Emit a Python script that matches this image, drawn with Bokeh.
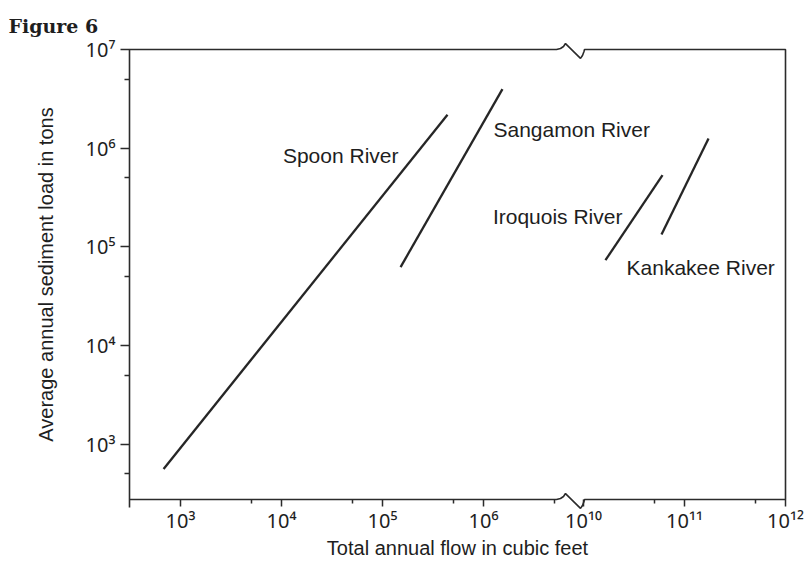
import math
from bokeh.plotting import figure
from bokeh.models import Range1d, LogScale, FixedTicker, CustomJSTickFormatter, ColumnDataSource, Label
from bokeh.embed import file_html
from bokeh.resources import INLINE

# ---------------- data ----------------
rivers = ["Spoon River", "Sangamon River", "Iroquois River", "Kankakee River"]
flow_segment = ["left", "left", "right", "right"]      # part of the broken flow axis
flow_start = [680, 1.51e5, 1.65e10, 5.92e10]           # total annual flow, cubic feet
flow_end = [4.4e5, 1.54e6, 6.06e10, 1.73e11]
load_start = [560, 6.23e4, 7.32e4, 1.33e5]             # average annual sediment load, tons
load_end = [2.18e6, 3.97e6, 5.33e5, 1.25e6]

label_flow = [1.44e5, 1.256e6, 2.43e10, 2.67e10]
label_load = [8.46e5, 1.54e6, 2.02e5, 6.23e4]
label_align = ["right", "left", "right", "left"]

x_ticks_left = [1e3, 1e4, 1e5, 1e6]
x_minor_left = [5e3, 5e4, 5e5, 5e6]
x_ticks_right = [1e10, 1e11, 1e12]
x_minor_right = [5e10, 5e11]
y_ticks = [1e3, 1e4, 1e5, 1e6, 1e7]
y_minor = [5e2, 5e3, 5e4, 5e5, 5e6]

# ---------------- geometry of the broken axis ----------------
W, H = 806, 561
B_LEFT, B_TOP, B_RIGHT, B_BOTTOM = 129, 48, 21, 58
FRAME_W, FRAME_H = W - B_LEFT - B_RIGHT, H - B_TOP - B_BOTTOM
DX = 101.0                      # px per decade on the flow axis (both parts)
X_LO = 2.495                    # log10 of left edge (left part)
X_HI = X_LO + FRAME_W / DX
SHIFT = 12.0 - X_HI             # right part: same scale shifted by SHIFT decades
Y_LO, Y_HI = 2.4386, 7.0
DY = FRAME_H / (Y_HI - Y_LO)
BREAK_PX = 441                  # break centre, px from frame left

INK = "#2b2b2b"
TXT = "#1e1e1e"
FONT = "Liberation Sans"
TICK_FONT = "Noto Sans"
FS = "21px"

p = figure(width=W, height=H, x_axis_type="log", y_axis_type="log",
           x_range=Range1d(10 ** X_LO, 10 ** X_HI),
           y_range=Range1d(10 ** Y_LO, 10 ** Y_HI),
           output_backend="svg", toolbar_location=None,
           min_border_left=B_LEFT, min_border_right=B_RIGHT,
           min_border_top=B_TOP, min_border_bottom=B_BOTTOM)
p.extra_x_ranges = {"right": Range1d(10 ** (X_LO + SHIFT), 10 ** (X_HI + SHIFT))}
p.extra_x_scales = {"right": LogScale()}

p.background_fill_color = "white"
p.border_fill_color = "white"
p.outline_line_color = None
p.xgrid.visible = False
p.ygrid.visible = False

p.title.text = "Figure 6"
p.title.text_font = "DejaVu Serif"
p.title.text_font_style = "bold"
p.title.text_font_size = "19px"
p.title.text_color = TXT
p.title.align = "left"
p.title.vertical_align = "bottom"
p.title.offset = -(B_LEFT - 8)
p.title.standoff = 25

sup_code = """
const sup = {"0":"\\u2070","1":"\\u00b9","2":"\\u00b2","3":"\\u00b3","4":"\\u2074",
             "5":"\\u2075","6":"\\u2076","7":"\\u2077","8":"\\u2078","9":"\\u2079","-":"\\u207b"};
let e = Math.log10(tick);
if (tick > split) { e = e + shift; }
e = Math.round(e);
return "10" + String(e).split("").map((c) => sup[c]).join("");
"""

split_val = 10 ** (X_LO + BREAK_PX / DX)
xaxis = p.xaxis[0]
xaxis.ticker = FixedTicker(ticks=x_ticks_left + [t / 10 ** SHIFT for t in x_ticks_right],
                           minor_ticks=x_minor_left + [t / 10 ** SHIFT for t in x_minor_right])
xaxis.formatter = CustomJSTickFormatter(args=dict(split=split_val, shift=SHIFT), code=sup_code)
yaxis = p.yaxis[0]
yaxis.ticker = FixedTicker(ticks=y_ticks, minor_ticks=y_minor)
yaxis.formatter = CustomJSTickFormatter(args=dict(split=1e30, shift=0.0), code=sup_code)

for ax, tout, mout in ((xaxis, 7, 4), (yaxis, 9, 5)):
    ax.axis_line_color = None
    ax.major_tick_in = 0
    ax.minor_tick_in = 0
    ax.major_tick_out = tout
    ax.minor_tick_out = mout
    ax.major_tick_line_color = INK
    ax.minor_tick_line_color = INK
    ax.major_tick_line_width = 1.5
    ax.minor_tick_line_width = 1.5
    ax.major_label_text_font = TICK_FONT
    ax.major_label_text_font_size = "20px"
    ax.major_label_text_color = TXT
    ax.axis_label_text_font = FONT
    ax.axis_label_text_font_size = "20px"
    ax.axis_label_text_font_style = "normal"
    ax.axis_label_text_color = TXT

xaxis.major_label_standoff = 0
xaxis.axis_label = "Total annual flow in cubic feet"
xaxis.axis_label_standoff = 0
yaxis.major_label_standoff = 5
yaxis.axis_label = "Average annual sediment load in tons"
yaxis.axis_label_standoff = 26

# ---------------- frame with the axis break ----------------
brk = [(-14, 0), (-10, -1), (-7, -3), (-5, -6), (10, 9), (12, 6), (13.5, 2), (14, 0)]
path = [(0, FRAME_H + 8), (0, 0)]
path += [(BREAK_PX + dx, dy) for dx, dy in brk]
path += [(FRAME_W, 0), (FRAME_W, FRAME_H)]
path += [(BREAK_PX + dx, FRAME_H + dy) for dx, dy in reversed(brk)]
path += [(0, FRAME_H)]
fx = [10 ** (X_LO + a / DX) for a, _ in path]
fy = [10 ** (Y_HI - b / DY) for _, b in path]
p.line(fx, fy, line_color=INK, line_width=1.6, level="overlay")

# ---------------- river lines ----------------
for seg in ("left", "right"):
    idx = [i for i, s in enumerate(flow_segment) if s == seg]
    src = ColumnDataSource(dict(x0=[flow_start[i] for i in idx], y0=[load_start[i] for i in idx],
                                x1=[flow_end[i] for i in idx], y1=[load_end[i] for i in idx]))
    kw = {"x_range_name": "right"} if seg == "right" else {}
    p.segment("x0", "y0", "x1", "y1", source=src, line_color="#262626", line_width=2.3, **kw)

for i, name in enumerate(rivers):
    p.add_layout(Label(x=label_flow[i], y=label_load[i], text=name,
                       x_range_name="right" if flow_segment[i] == "right" else "default",
                       text_align=label_align[i], text_baseline="middle",
                       text_font=FONT, text_font_size=FS, text_color=TXT))

open("out.html", "w").write(file_html(p, INLINE))
